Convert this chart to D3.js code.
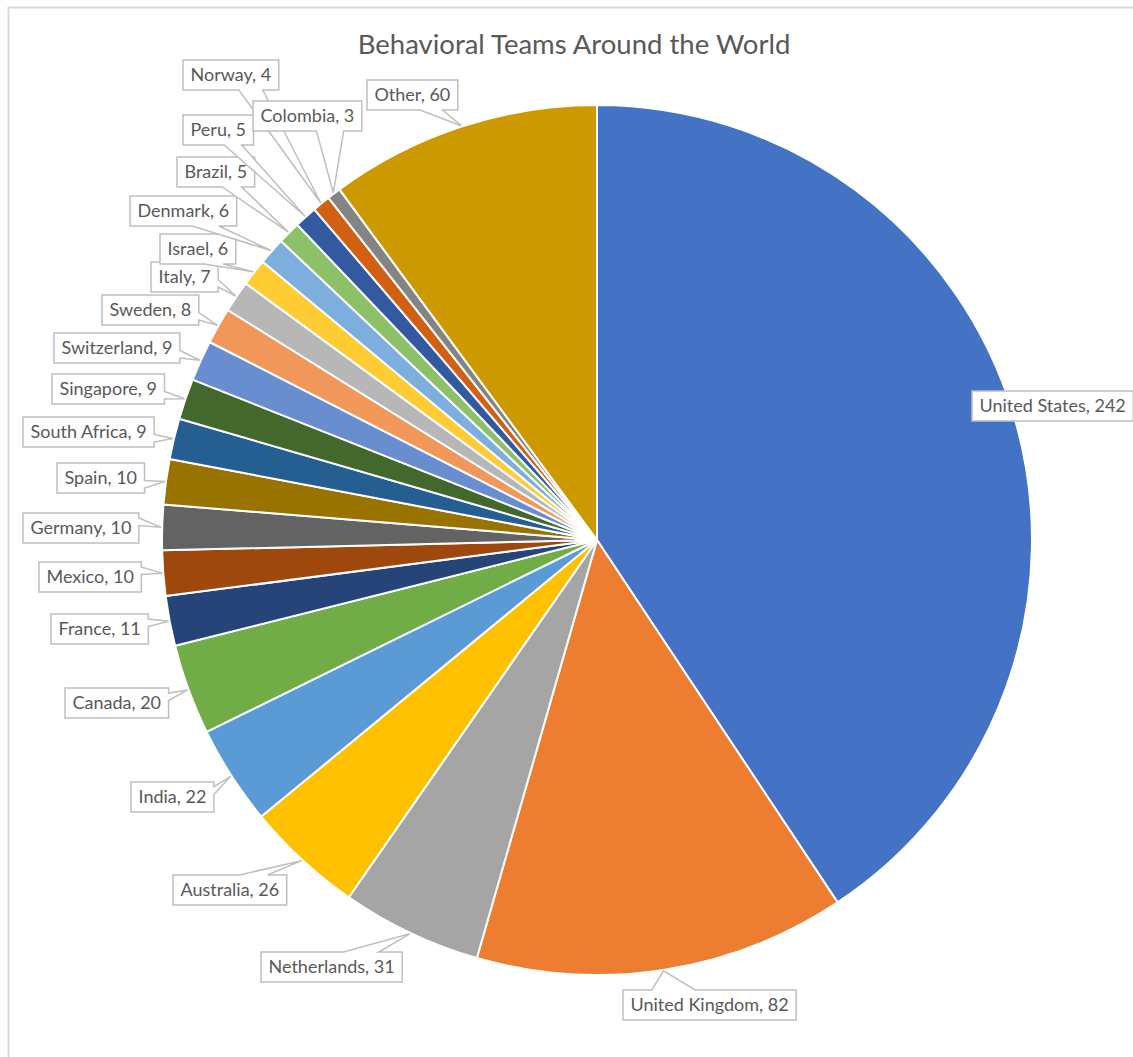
<!DOCTYPE html>
<html><head>
<meta charset="utf-8">
<title>Behavioral Teams Around the World</title>
<script src="https://d3js.org/d3.v7.min.js"></script>
<style>
  body { margin: 0; background: #fff; }
  .title { font-family: Lato, "Open Sans", sans-serif; font-size: 27.5px; fill: #595959; text-anchor: middle; }
  .lbl { font-family: Lato, "Open Sans", sans-serif; font-size: 18px; fill: #595959; }
</style>
</head>
<body>
<script>
// data, clockwise from 12 o'clock
var countries = ["United States", "United Kingdom", "Netherlands", "Australia", "India", "Canada",
  "France", "Mexico", "Germany", "Spain", "South Africa", "Singapore", "Switzerland", "Sweden",
  "Italy", "Israel", "Denmark", "Brazil", "Peru", "Norway", "Colombia", "Other"];
var teams = [242, 82, 31, 26, 22, 20, 11, 10, 10, 10, 9, 9, 9, 8, 7, 6, 6, 5, 5, 4, 3, 60];

// office-like palette, one per slice
var colors = ["#4472C4", "#ED7D31", "#A5A5A5", "#FFC000", "#5B9BD5", "#70AD47",
  "#264478", "#9E480E", "#636363", "#997300", "#255E91", "#43682B", "#698ED0", "#F1975A",
  "#B7B7B7", "#FFCD33", "#7CAFDD", "#8CC168", "#335AA1", "#D26012", "#848484", "#CC9A00"];

// callout boxes: left edge and vertical middle (placed by hand in the original)
var labelAt = [[972, 406], [623, 1005], [261, 967], [173, 890], [131, 797], [65, 703],
  [51, 629], [39, 577], [23, 528], [57, 478], [23, 432], [52, 389], [54, 348], [102, 310],
  [151, 277], [160, 249], [130, 211], [177, 172], [183, 130], [183, 75], [253, 116], [367, 95]];

var W = 1133, H = 1057;
var cx = 597, cy = 540, R = 435;

var svg = d3.select("body").append("svg")
    .attr("width", W).attr("height", H);

// chart area border (runs off the right and bottom)
svg.append("rect")
    .attr("x", 8.5).attr("y", 7.5)
    .attr("width", W + 50).attr("height", H + 50)
    .attr("fill", "#fff")
    .attr("stroke", "#d9d9d9").attr("stroke-width", 2);

svg.append("text").attr("class", "title")
    .attr("x", 574).attr("y", 54)
    .text("Behavioral Teams Around the World");

var pie = d3.pie().sort(null).value(function(d) { return d; });
var arcs = pie(teams);
var arc = d3.arc().innerRadius(0).outerRadius(R);
var edge = d3.arc().innerRadius(R + 1).outerRadius(R + 1);

var g = svg.append("g").attr("transform", "translate(" + cx + "," + cy + ")");

g.selectAll("path.slice").data(arcs).enter().append("path")
    .attr("class", "slice")
    .attr("d", arc)
    .attr("fill", function(d, i) { return colors[i]; })
    .attr("stroke", "#fff")
    .attr("stroke-width", 2)
    .attr("stroke-linejoin", "round");

// rectangle callout with a wedge pointing at (tx, ty)
function callout(x0, y0, w, h, tx, ty) {
    var mx = x0 + w / 2, my = y0 + h / 2;
    var dxPos = tx - mx, dyPos = ty - my;
    var inside = tx >= x0 && tx <= x0 + w && ty >= y0 && ty <= y0 + h;
    var dq = Math.abs(dxPos * h) - Math.abs(dyPos * w);
    var xa = dxPos > 0 ? w * 7 / 12 : w * 2 / 12,
        xb = dxPos > 0 ? w * 10 / 12 : w * 5 / 12,
        ya = dyPos > 0 ? h * 7 / 12 : h * 2 / 12,
        yb = dyPos > 0 ? h * 10 / 12 : h * 5 / 12;
    var side = inside ? "" : (dq > 0 ? (dxPos > 0 ? "r" : "l") : (dyPos > 0 ? "b" : "t"));
    var p = d3.path();
    p.moveTo(x0, y0);
    if (side == "t") { p.lineTo(x0 + xa, y0); p.lineTo(tx, ty); p.lineTo(x0 + xb, y0); }
    p.lineTo(x0 + w, y0);
    if (side == "r") { p.lineTo(x0 + w, y0 + ya); p.lineTo(tx, ty); p.lineTo(x0 + w, y0 + yb); }
    p.lineTo(x0 + w, y0 + h);
    if (side == "b") { p.lineTo(x0 + xb, y0 + h); p.lineTo(tx, ty); p.lineTo(x0 + xa, y0 + h); }
    p.lineTo(x0, y0 + h);
    if (side == "l") { p.lineTo(x0, y0 + yb); p.lineTo(tx, ty); p.lineTo(x0, y0 + ya); }
    p.closePath();
    return p.toString();
}

var labels = svg.append("g");

arcs.forEach(function(d, i) {
    var lg = labels.append("g");
    var box = lg.append("path");
    var t = lg.append("text").attr("class", "lbl")
        .attr("text-anchor", "start")
        .attr("y", labelAt[i][1])
        .attr("dy", "0.35em")
        .text(countries[i] + ", " + d.value);
    var tw = t.node().getComputedTextLength();
    var bw = tw + 15, bh = 30;
    var x0 = labelAt[i][0], y0 = labelAt[i][1] - bh / 2;
    t.attr("x", x0 + 7.5);
    var tip = edge.centroid(d);
    box.attr("d", callout(x0, y0, bw, bh, tip[0] + cx, tip[1] + cy))
        .attr("fill", "#fff")
        .attr("stroke", "#bfbfbf")
        .attr("stroke-width", 1.5)
        .attr("stroke-linejoin", "miter");
});
</script>
</body></html>
